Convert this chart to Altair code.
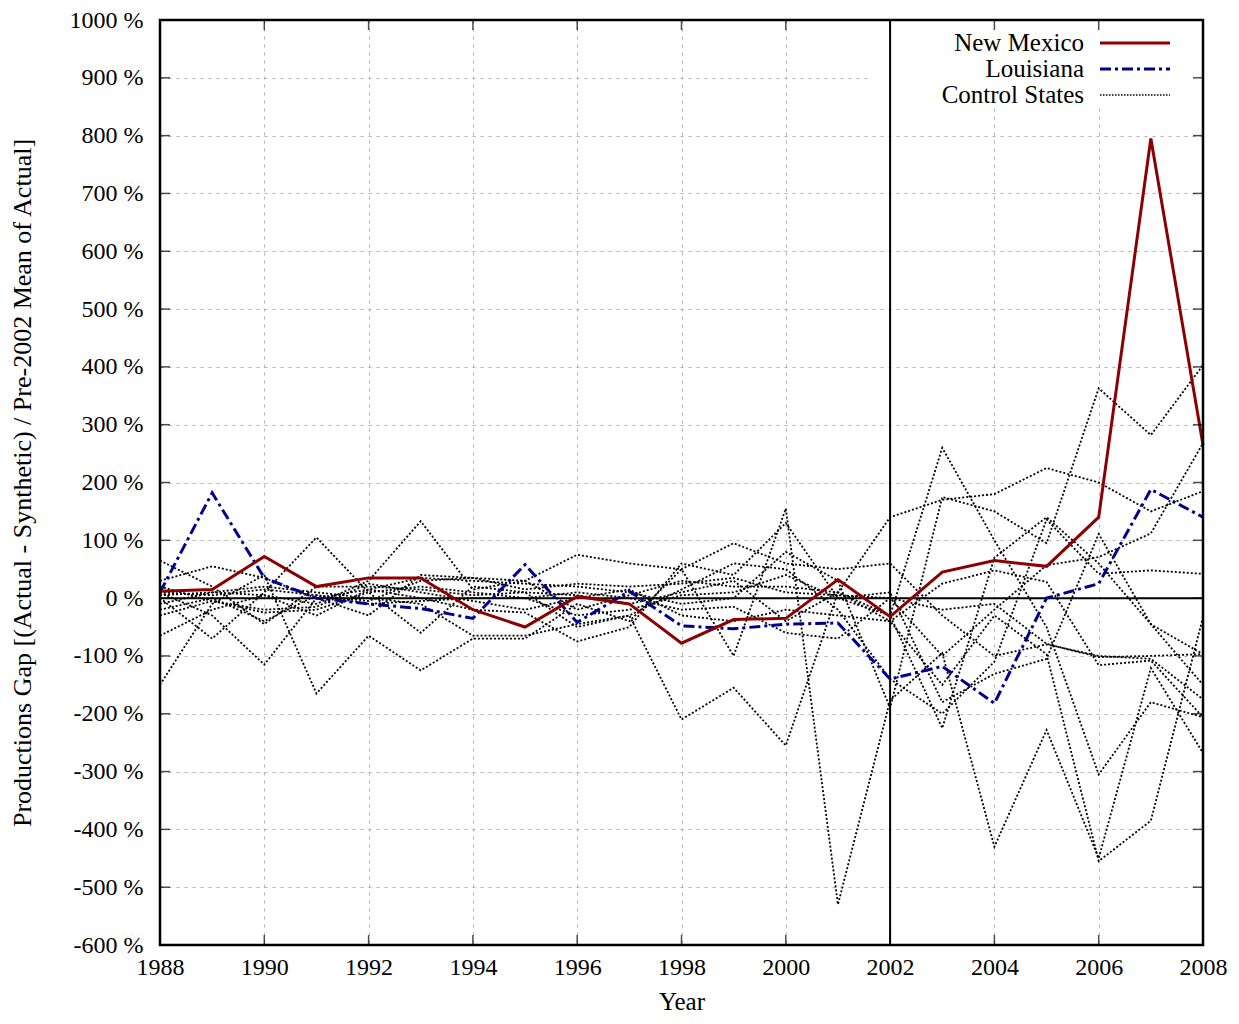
import altair as alt
import pandas as pd

years = list(range(1988, 2009))

new_mexico = [12, 15, 72, 20, 35, 35, -20, -50, 3, -10, -78, -37, -35, 32, -32, 45, 65, 55, 140, 795, 265]
louisiana = [10, 182, 35, 0, -10, -18, -35, 58, -42, 12, -48, -53, -45, -43, -140, -118, -182, 0, 25, 188, 140]

control_names = ["S1", "S2", "S3", "S4", "S5", "S6", "S7", "S8", "S9", "S10", "S11", "S12"]
s1 = [65, 20, -45, 20, 20, 15, 5, 10, 5, -10, 10, 30, -40, 10, 140, 170, 180, 225, 200, 150, 185]
s2 = [-150, -10, 40, -165, -65, -125, -70, -70, -10, -40, 50, -100, 155, -530, -177, -95, -430, -228, -450, -121, -268]
s3 = [0, -70, 10, 105, 10, -60, 20, 10, -50, -30, -210, -155, -255, 10, -30, 260, 100, -50, -305, -180, -206]
s4 = [30, 55, 35, 0, -30, 40, 35, 30, 75, 60, 50, 95, 60, 50, 60, -30, -100, -80, -100, -105, -175]
s5 = [-65, -20, 5, -30, 15, 0, -20, -25, -75, -50, 60, 40, 130, 0, -30, -225, 70, 140, 60, -45, -97]
s6 = [10, -30, -115, 0, 15, 35, 30, 25, 20, 10, -10, 0, 80, 30, -190, 175, 150, 95, 363, 282, 403]
s7 = [-10, 10, 20, 10, 0, -10, -65, -65, -45, -30, 15, 60, 50, -20, -140, -200, -110, 136, 42, 48, 42]
s8 = [20, -5, -20, -15, 25, 10, -5, -20, 0, 15, -30, -40, -20, -30, -40, -150, -30, -97, -455, -385, -33]
s9 = [-20, 0, -40, 5, -10, -5, 0, 0, 10, 0, -20, -15, -60, -70, 0, -100, -20, 57, 71, 112, 268]
s10 = [5, 10, 5, -10, 30, 133, 15, 30, -20, 5, 30, 20, 20, 10, -40, 25, 48, 28, -116, -108, -206]
s11 = [10, 5, 15, 5, -5, 30, 35, 15, 25, 20, 25, 35, 10, 5, 0, -20, -10, -79, -102, -100, -97]
s12 = [-30, -5, -25, -20, 10, 20, 10, 0, -30, -20, 5, 10, 40, 0, 10, -180, -131, -105, 111, -45, -150]
controls = [s1, s2, s3, s4, s5, s6, s7, s8, s9, s10, s11, s12]

x_ticks = list(range(1988, 2009, 2))
y_ticks = list(range(-600, 1001, 100))
legend_labels = ["New Mexico", "Louisiana", "Control States"]
y_title = "Productions Gap [(Actual - Synthetic) / Pre-2002 Mean of Actual]"

FONT = "Liberation Serif"

ctrl_rows = []
for name, vals in zip(control_names, controls):
    for yr, v in zip(years, vals):
        ctrl_rows.append({"year": yr, "gap": v, "state": name})
df_ctrl = pd.DataFrame(ctrl_rows)
df_nm = pd.DataFrame({"year": years, "gap": new_mexico})
df_la = pd.DataFrame({"year": years, "gap": louisiana})

x_enc = alt.X("year:Q",
              scale=alt.Scale(domain=[1988, 2008], nice=False, zero=False),
              axis=alt.Axis(values=x_ticks, format="d", title="Year", grid=True,
                            ticks=False, domain=False, labelPadding=10, titlePadding=10,
                            labelFlush=False, labelOverlap=False, labelBound=False,
                            labelFont=FONT, titleFont=FONT, labelFontSize=24, titleFontSize=25))
y_enc = alt.Y("gap:Q",
              scale=alt.Scale(domain=[-600, 1000], nice=False, zero=False),
              axis=alt.Axis(values=y_ticks, labelExpr="datum.value + ' %'", title=y_title,
                            grid=True, ticks=False, domain=False, labelPadding=17, titlePadding=34,
                            labelFlush=False, labelOverlap=False, labelBound=False,
                            labelFont=FONT, titleFont=FONT, labelFontSize=24, titleFontSize=26))

ctrl = alt.Chart(df_ctrl).mark_line(color="black", strokeWidth=1.8, strokeDash=[2, 2]).encode(
    x=x_enc, y=y_enc, detail="state:N")

legend_box = alt.Chart(pd.DataFrame({"k": [0]})).mark_rect(color="white").encode(
    x=alt.value(708), x2=alt.value(1043), y=alt.value(0), y2=alt.value(88))

zero_line = alt.Chart(pd.DataFrame({"gap": [0]})).mark_rule(color="black", strokeWidth=2).encode(y=y_enc)
vline = alt.Chart(pd.DataFrame({"year": [2002]})).mark_rule(color="black", strokeWidth=2).encode(x=x_enc)

la = alt.Chart(df_la).mark_line(color="#000090", strokeWidth=3, strokeDash=[11, 4, 3, 4]).encode(x=x_enc, y=y_enc)
nm = alt.Chart(df_nm).mark_line(color="#8b0000", strokeWidth=3).encode(x=x_enc, y=y_enc)

# inward ticks (gnuplot style)
tick_lr = pd.DataFrame([{"year": yr, "gap": g} for yr in (1988, 2008) for g in y_ticks])
tick_tb = pd.DataFrame([{"year": yr, "gap": g} for yr in x_ticks for g in (-600, 1000)])
ticks_h = alt.Chart(tick_lr).mark_tick(orient="horizontal", size=20, thickness=1.5, color="black", clip=True).encode(x=x_enc, y=y_enc)
ticks_v = alt.Chart(tick_tb).mark_tick(orient="vertical", size=20, thickness=1.5, color="black", clip=True).encode(x=x_enc, y=y_enc)

# plot frame drawn above the grid
frame = alt.Chart(pd.DataFrame({"k": [0]})).mark_rect(fillOpacity=0, stroke="black", strokeWidth=2.5).encode(
    x=alt.value(0), x2=alt.value(1043), y=alt.value(0), y2=alt.value(925))

# legend
leg_layers = []
leg_y = [23, 49, 75]
styles = [
    dict(color="#8b0000", strokeWidth=3),
    dict(color="#000090", strokeWidth=3, strokeDash=[11, 4, 3, 4]),
    dict(color="black", strokeWidth=1.5, strokeDash=[1.5, 1.5]),
]
for lab, yy, st in zip(legend_labels, leg_y, styles):
    d = pd.DataFrame({"label": [lab]})
    leg_layers.append(alt.Chart(d).mark_text(align="right", baseline="middle", font=FONT, fontSize=25, color="black").encode(
        text="label:N", x=alt.value(924), y=alt.value(yy)))
    leg_layers.append(alt.Chart(d).mark_rule(**st).encode(
        x=alt.value(940), x2=alt.value(1010), y=alt.value(yy)))

chart = alt.layer(ctrl, legend_box, zero_line, vline, la, nm, ticks_h, ticks_v, frame, *leg_layers).properties(
    width=1043, height=925,
    autosize=alt.AutoSizeParams(type="none"),
    padding={"left": 152, "top": 12, "right": 28, "bottom": 71},
).configure_view(stroke=None).configure_axis(
    labelColor="black", titleColor="black", titleFontWeight="normal",
    gridColor="#b0b0b0", gridDash=[3, 5], gridWidth=1,
)

chart.save("out.html", embed_options={"renderer": "svg", "actions": False})
